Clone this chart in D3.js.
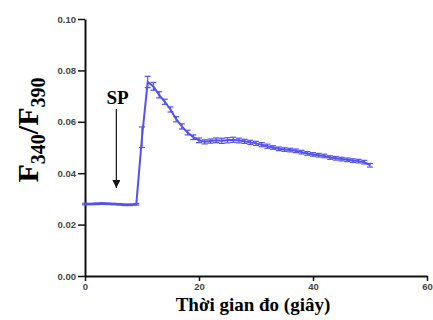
<!DOCTYPE html>
<html>
<head>
<meta charset="utf-8">
<script src="https://cdn.jsdelivr.net/npm/d3@7"></script>
<style>
  body { margin: 0; background: #fff; }
</style>
</head>
<body>
<div id="chart"></div>
<script>
// time (s), mean ratio and SEM
const times = [0,1,2,3,4,5,6,7,8,9,10,11,12,13,14,15,16,17,18,19,20,21,22,23,24,25,26,27,28,29,30,
  31,32,33,34,35,36,37,38,39,40,41,42,43,44,45,46,47,48,49,50];
const means = [0.0280,0.0280,0.0281,0.0282,0.0281,0.0280,0.0279,0.0277,0.0277,0.0279,0.0540,0.0755,0.0738,0.0705,0.0678,0.0648,0.0610,0.0582,0.0558,0.0540,0.0528,
  0.0522,0.0525,0.0528,0.0526,0.0528,0.0530,0.0527,0.0524,0.0520,0.0516,0.0511,0.0505,0.0500,0.0495,0.0492,0.0490,0.0487,0.0482,0.0477,0.0473,
  0.0470,0.0467,0.0461,0.0458,0.0455,0.0452,0.0449,0.0447,0.0443,0.0431];
const sems = [0.0003,0.0003,0.0003,0.0003,0.0003,0.0003,0.0003,0.0003,0.0003,0.0003,0.0040,0.0022,0.0015,0.0012,0.0010,0.0010,0.0010,0.0010,0.0009,0.0009,0.0009,
  0.0008,0.0008,0.0009,0.0010,0.0010,0.0010,0.0009,0.0008,0.0008,0.0008,0.0008,0.0008,0.0007,0.0007,0.0007,0.0007,0.0007,0.0007,0.0007,0.0007,
  0.0007,0.0007,0.0007,0.0007,0.0007,0.0007,0.0007,0.0007,0.0007,0.0007];
const xTicks = [0, 20, 40, 60];
const yTicks = [0.00, 0.02, 0.04, 0.06, 0.08, 0.10];

const width = 433, height = 320;
const margin = { left: 85, right: 6, top: 19, bottom: 44 };
const blue = "#5252f2";

const svg = d3.select("#chart").append("svg")
  .attr("width", width)
  .attr("height", height);

const x = d3.scaleLinear().domain([0, 60]).range([margin.left, width - margin.right]);
const y = d3.scaleLinear().domain([0, 0.10]).range([height - margin.bottom, margin.top]);

const data = times.map((t, i) => ({ t: t, m: means[i], s: sems[i] }));

// axes
const xAxis = svg.append("g")
  .attr("transform", `translate(0,${y(0)})`)
  .call(d3.axisBottom(x).tickValues(xTicks).tickFormat(d3.format("d")).tickSize(5).tickSizeOuter(0));
const yAxis = svg.append("g")
  .attr("transform", `translate(${x(0)},0)`)
  .call(d3.axisLeft(y).tickValues(yTicks).tickFormat(d3.format(".2f")).tickSize(7).tickSizeOuter(0));

[xAxis, yAxis].forEach(g => {
  g.select(".domain").attr("stroke", "#111").attr("stroke-width", 2);
  g.selectAll(".tick line").attr("stroke", "#111").attr("stroke-width", 1.5);
  g.selectAll(".tick text")
    .attr("font-family", "Arial, 'Liberation Sans', sans-serif")
    .attr("font-size", 9.5)
    .attr("font-weight", "bold")
    .attr("fill", "#444");
});
yAxis.selectAll(".tick text").attr("x", -9);
xAxis.selectAll(".tick text").attr("y", 7);

// error bars
const eb = svg.append("g").attr("stroke", blue).attr("stroke-width", 1.2);
eb.selectAll("line.v").data(data).join("line")
  .attr("x1", d => x(d.t)).attr("x2", d => x(d.t))
  .attr("y1", d => y(d.m - d.s)).attr("y2", d => y(d.m + d.s));
eb.selectAll("line.top").data(data).join("line")
  .attr("x1", d => x(d.t) - 3).attr("x2", d => x(d.t) + 3)
  .attr("y1", d => y(d.m + d.s)).attr("y2", d => y(d.m + d.s));
eb.selectAll("line.bot").data(data).join("line")
  .attr("x1", d => x(d.t) - 3).attr("x2", d => x(d.t) + 3)
  .attr("y1", d => y(d.m - d.s)).attr("y2", d => y(d.m - d.s));

// mean line
svg.append("path")
  .datum(data)
  .attr("fill", "none")
  .attr("stroke", blue)
  .attr("stroke-width", 2)
  .attr("d", d3.line().x(d => x(d.t)).y(d => y(d.m)));

// SP arrow
svg.append("defs").append("marker")
  .attr("id", "head")
  .attr("viewBox", "0 0 10 10")
  .attr("refX", 10).attr("refY", 5)
  .attr("markerWidth", 8).attr("markerHeight", 8)
  .attr("markerUnits", "userSpaceOnUse")
  .attr("orient", "auto")
  .append("path").attr("d", "M0,0 L10,5 L0,10 Z").attr("fill", "#111");

svg.append("line")
  .attr("x1", x(5.5)).attr("x2", x(5.5))
  .attr("y1", 109).attr("y2", 188)
  .attr("stroke", "#111").attr("stroke-width", 1.2)
  .attr("marker-end", "url(#head)");

svg.append("text")
  .attr("x", x(5.7)).attr("y", 104)
  .attr("text-anchor", "middle")
  .attr("font-family", "'Liberation Serif', 'Times New Roman', serif")
  .attr("font-weight", "bold")
  .attr("font-size", 19)
  .text("SP");

// axis titles
svg.append("text")
  .attr("x", 253).attr("y", 311)
  .attr("text-anchor", "middle")
  .attr("font-family", "'Liberation Serif', 'Times New Roman', serif")
  .attr("font-weight", "bold")
  .attr("font-size", 19)
  .text("Thời gian đo (giây)");

const yt = svg.append("text")
  .attr("transform", "translate(38,130) rotate(-90)")
  .attr("text-anchor", "middle")
  .attr("font-family", "'Liberation Serif', 'Times New Roman', serif")
  .attr("font-weight", "bold")
  .attr("font-size", 30);
yt.append("tspan").text("F");
yt.append("tspan").attr("font-size", 20).attr("dy", 7).text("340");
yt.append("tspan").attr("dy", -7).text("/F");
yt.append("tspan").attr("font-size", 20).attr("dy", 7).text("390");
</script>
</body>
</html>
